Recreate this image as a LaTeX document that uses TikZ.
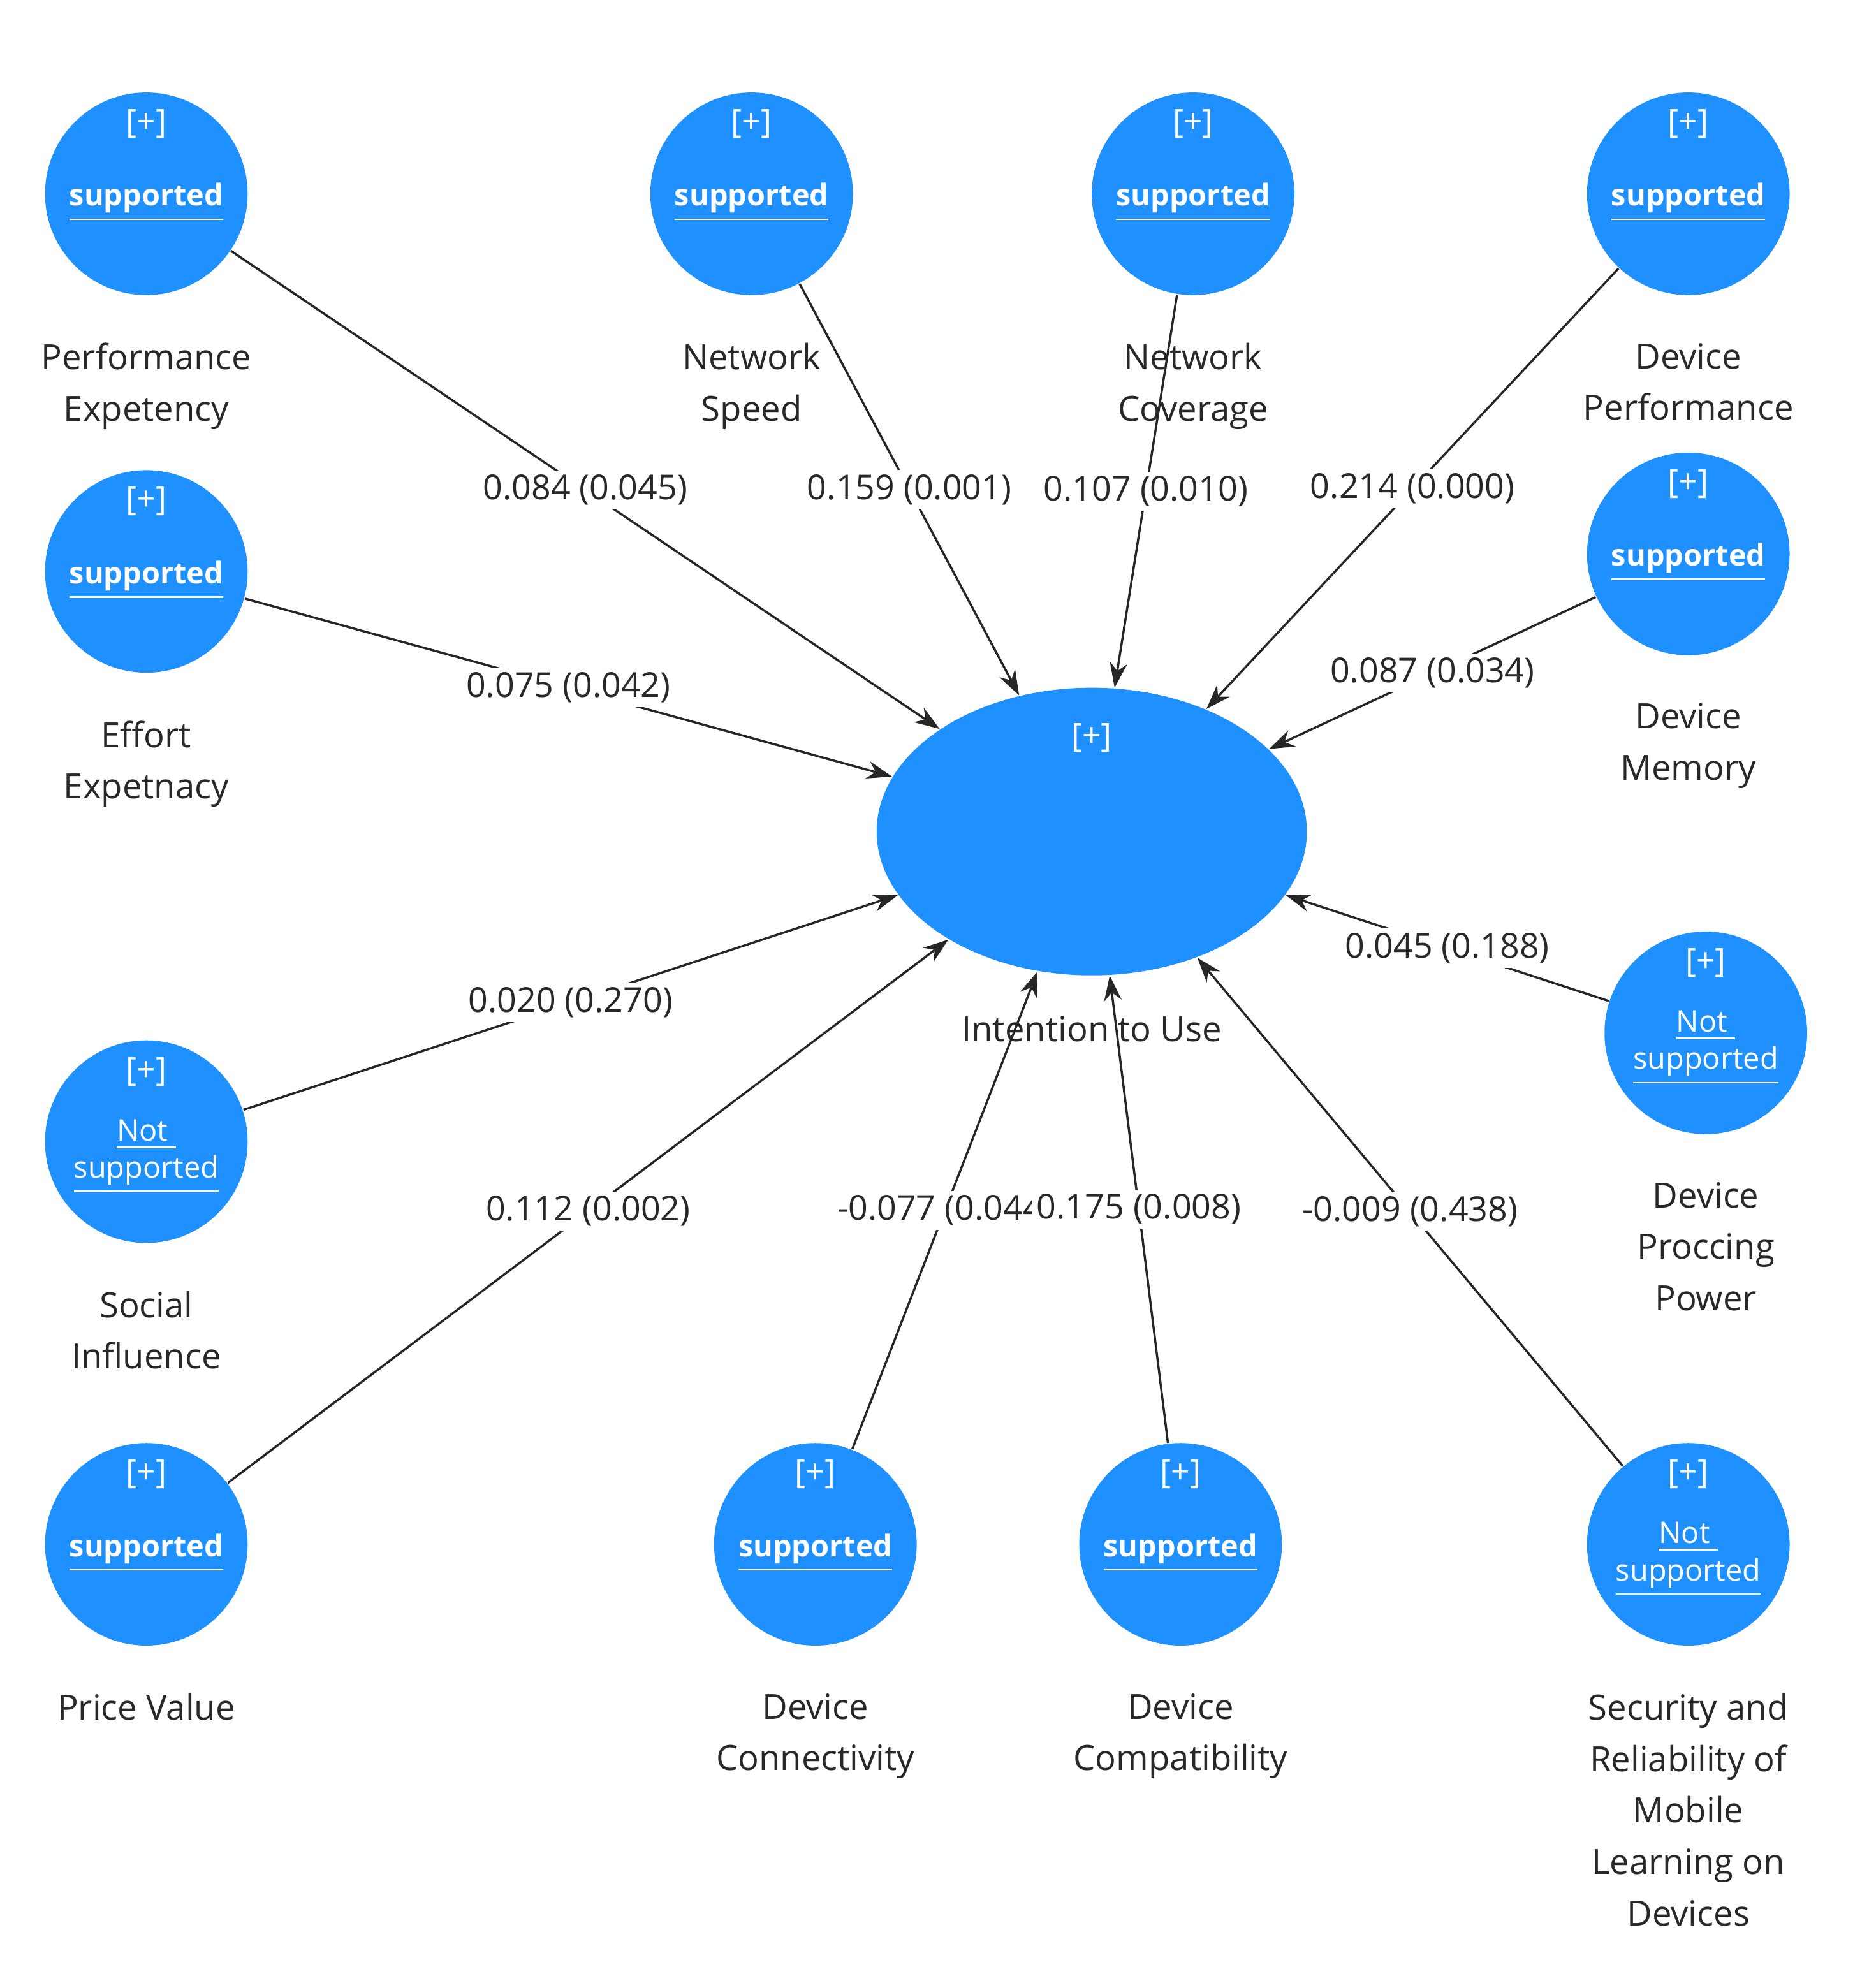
\documentclass[tikz,border=0pt]{standalone}
\usepackage{fontspec}
\setmainfont{Open Sans}
\usetikzlibrary{arrows.meta,shapes.geometric}
\definecolor{cblue}{RGB}{30,144,255}
\definecolor{ctext}{RGB}{40,40,40}
\tikzset{
 lv/.style={circle,fill=cblue,minimum size=1.62cm,inner sep=0pt},
 tlab/.style={align=center,font=\fontsize{7.9pt}{11.7pt}\selectfont,text=ctext},
 plus/.style={text=white,font=\fontsize{7.5pt}{9pt}\selectfont},
 sup/.style={text=white,font=\fontsize{6.8pt}{9pt}\selectfont\bfseries},
 nsup/.style={text=white,align=center,font=\fontsize{6.8pt}{9.5pt}\selectfont},
 el/.style={fill=white,inner sep=1pt,font=\fontsize{7.8pt}{10pt}\selectfont,text=ctext,midway},
 ar/.style={draw=black!85,line width=0.5pt,-{Stealth[length=0.2cm,width=0.14cm]}}
}
\newcommand{\LV}[5]{% name, x, y, kind(s/n), label
 \node[lv] (#1) at (#2,#3) {};
 \node[plus] at (#2,#3+0.56) {[+]};
 \if#4s\node[sup] at (#2,#3-0.07) {\underline{supported}};
 \else\node[nsup] at (#2,#3-0.12) {\underline{Not\ }\\[-1pt]\underline{supported}};\fi
 \node[tlab,anchor=north] (#1t) at (#2,#3-1.07) {#5};
}
\begin{document}
\begin{tikzpicture}
\useasboundingbox (0,0) rectangle (15,15.73);
\node[ellipse,fill=cblue,minimum width=3.44cm,minimum height=2.3cm,inner sep=0pt] (itu) at (8.73,9.08) {};
\node[plus] at (8.73,9.83) {[+]};
\node[tlab] (itut) at (8.73,7.5) {Intention to Use};
\LV{pe}{1.17}{14.18}{s}{Performance\\Expetency}
\LV{ns}{6.01}{14.18}{s}{Network\\Speed}
\LV{nc}{9.54}{14.18}{s}{Network\\Coverage}
\LV{dp}{13.50}{14.18}{s}{Device\\Performance}
\LV{ee}{1.17}{11.16}{s}{Effort\\Expetnacy}
\LV{dm}{13.50}{11.30}{s}{Device\\Memory}
\LV{si}{1.17}{6.60}{n}{Social\\Influence}
\LV{dpp}{13.64}{7.47}{n}{Device\\Proccing\\Power}
\LV{pv}{1.17}{3.38}{s}{Price Value}
\LV{dc}{6.52}{3.38}{s}{Device\\Connectivity}
\LV{dco}{9.44}{3.38}{s}{Device\\Compatibility}
\LV{sr}{13.50}{3.38}{n}{Security and\\Reliability of\\Mobile\\Learning on\\Devices}
\draw[ar] (pe) -- (itu) node[el] {0.084 (0.045)};
\draw[ar] (ns) -- (itu) node[el] {0.159 (0.001)};
\draw[ar] (nc) -- (itu) node[el] {0.107 (0.010)};
\draw[ar] (dp) -- (itu) node[el] {0.214 (0.000)};
\draw[ar] (ee) -- (itu) node[el] {0.075 (0.042)};
\draw[ar] (dm) -- (itu) node[el] {0.087 (0.034)};
\draw[ar] (si) -- (itu) node[el] {0.020 (0.270)};
\draw[ar] (pv) -- (itu) node[el] {0.112 (0.002)};
\draw[ar] (dc) -- (itu) node[el] {-0.077 (0.044)};
\draw[ar] (dco) -- (itu) node[el] {0.175 (0.008)};
\draw[ar] (sr) -- (itu) node[el] {-0.009 (0.438)};
\draw[ar] (dpp) -- (itu) node[el] {0.045 (0.188)};
\end{tikzpicture}
\end{document}
